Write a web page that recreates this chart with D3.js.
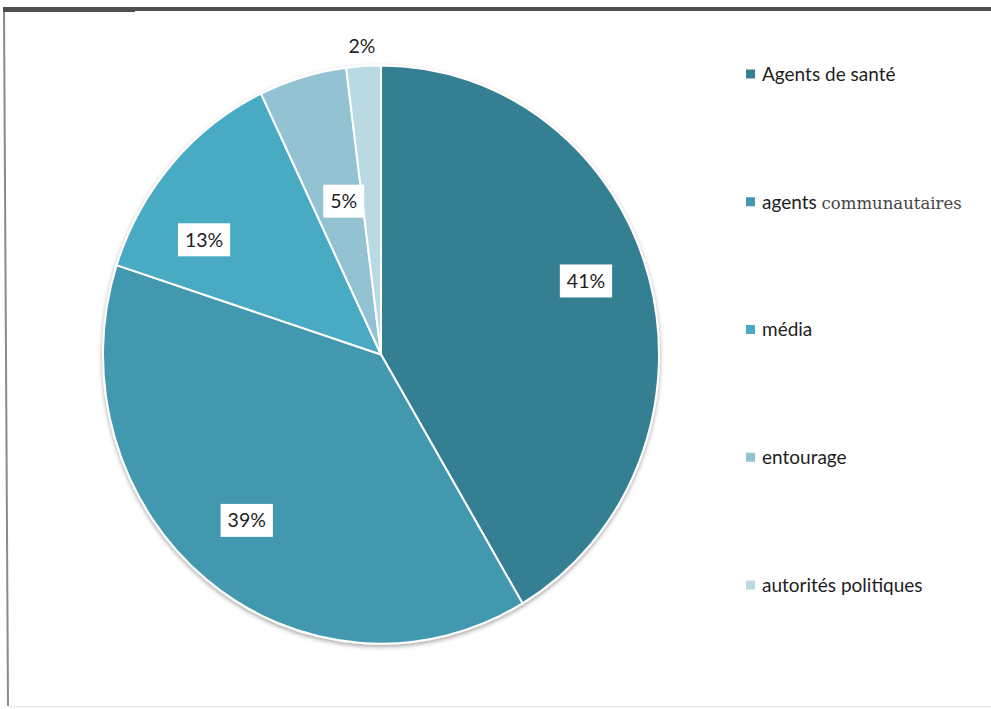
<!DOCTYPE html>
<html>
<head>
<meta charset="utf-8">
<script src="https://cdn.jsdelivr.net/npm/d3@7"></script>
<style>
  html, body { margin: 0; padding: 0; background: #fff; }
  svg { display: block; }
</style>
</head>
<body>
<svg id="chart" width="991" height="709"></svg>
<script>
// ---- data ----
const categories = ["Agents de santé", "agents communautaires", "média", "entourage", "autorités politiques"];
const values = [41.5, 38.5, 12.9, 5.1, 2.0];
const labels = ["41%", "39%", "13%", "5%", "2%"];
const colors = ["#367f93", "#4398af", "#4aaac4", "#93c2d3", "#b9d9e3"];

// ---- layout ----
const svg = d3.select("#chart");
const W = 991, H = 709;
const cx = 381, cy = 354.5, r = 278, ky = 1.04;
const font = "Lato, 'Open Sans', sans-serif";

// frame lines
svg.append("line").attr("x1", 4).attr("y1", 9).attr("x2", 8).attr("y2", 706)
  .attr("stroke", "#8a8a8a").attr("stroke-width", 2);
svg.append("rect").attr("x", 3).attr("y", 7).attr("width", W - 3).attr("height", 4)
  .attr("fill", "#4f4f4f");
svg.append("rect").attr("x", 3).attr("y", 7).attr("width", 132).attr("height", 5)
  .attr("fill", "#4f4f4f");
svg.append("line").attr("x1", 8).attr("y1", 706.5).attr("x2", W).attr("y2", 706.5)
  .attr("stroke", "#e6e6e6").attr("stroke-width", 1);

// shadow filter
const defs = svg.append("defs");
const f = defs.append("filter").attr("id", "sh").attr("x", "-10%").attr("y", "-10%").attr("width", "120%").attr("height", "125%");
f.append("feDropShadow").attr("dx", 0).attr("dy", 2).attr("stdDeviation", 2)
  .attr("flood-color", "#000").attr("flood-opacity", 0.35);

const pie = d3.pie().sort(null).value(d => d).startAngle(0).endAngle(2 * Math.PI);
const arcs = pie(values);
const arc = d3.arc().innerRadius(0).outerRadius(r);

const g = svg.append("g").attr("transform", `translate(${cx},${cy}) scale(1,${ky})`);
g.append("g").attr("filter", "url(#sh)")
  .selectAll("path").data(arcs).join("path")
  .attr("d", arc)
  .attr("fill", (d, i) => colors[i])
  .attr("stroke", "#fff").attr("stroke-width", 2)
  .attr("vector-effect", "non-scaling-stroke");

// label placement (fraction along slice, radius factor)
const labelFrac = [0.475, 0.51, 0.30, 0.62, 0.49];
const labelRad = [0.78, 0.75, 0.75, 0.547, 1.07];
const boxed = [true, true, true, true, false];

arcs.forEach((d, i) => {
  const a = d.startAngle + (d.endAngle - d.startAngle) * labelFrac[i];
  const x = cx + r * labelRad[i] * Math.sin(a);
  const y = cy - r * labelRad[i] * Math.cos(a) * ky;
  const lg = svg.append("g").attr("transform", `translate(${x},${y})`);
  const t = lg.append("text")
    .attr("text-anchor", "middle").attr("dy", "0.36em")
    .attr("font-family", font).attr("font-size", 19.5).attr("fill", "#1e1e1e")
    .text(labels[i]);
  if (boxed[i]) {
    const bb = t.node().getBBox();
    lg.insert("rect", "text")
      .attr("x", -bb.width / 2 - 7).attr("y", -16.5)
      .attr("width", bb.width + 14).attr("height", 33)
      .attr("fill", "#fff");
  }
});

// legend
const legendY = d3.scalePoint().domain(categories).range([74, 585]);
const lg = svg.append("g");
categories.forEach((c, i) => {
  const y = legendY(c);
  lg.append("rect").attr("x", 746).attr("y", y - 4.5).attr("width", 9).attr("height", 9)
    .attr("fill", colors[i]);
  const t = lg.append("text").attr("x", 762).attr("y", y).attr("dy", "0.36em")
    .attr("font-family", font).attr("font-size", 19).attr("fill", "#1e1e1e");
  if (c === "agents communautaires") {
    t.append("tspan").text("agents ");
    t.append("tspan").attr("font-family", "'DejaVu Serif', 'Liberation Serif', serif")
      .attr("font-size", 16.5).attr("fill", "#444").text("communautaires");
  } else {
    t.text(c);
  }
});
</script>
</body>
</html>
